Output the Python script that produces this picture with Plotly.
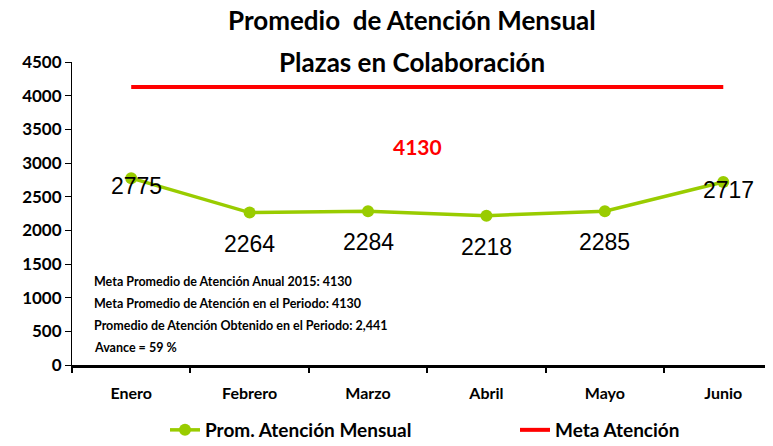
import plotly.graph_objects as go

meses = ["Enero", "Febrero", "Marzo", "Abril", "Mayo", "Junio"]
promedio = [2775, 2264, 2284, 2218, 2285, 2717]
meta = [4130, 4130, 4130, 4130, 4130, 4130]
titulo = ["Promedio  de Atención Mensual", "Plazas en Colaboración"]
notas = [
    "Meta Promedio de Atención Anual 2015: 4130",
    "Meta Promedio de Atención en el Periodo: 4130",
    "Promedio de Atención Obtenido en el Periodo: 2,441",
    "Avance = 59 %",
]

fuente = "Lato, Open Sans, sans-serif"
verde = "#99cc00"
rojo = "#ff0000"

# area de trazado en pixeles de pantalla: x 72..773, y 62..365
# (la pagina tiene 8px de margen en el body)
def px(x):
    return (x - 72) / 701

def py(y):
    return (365 - y) / 303

fig = go.Figure()
fig.add_trace(go.Scatter(x=meses, y=promedio, mode="lines+markers",
                         name="<b>Prom. Atención Mensual</b>", legend="legend",
                         line=dict(color=verde, width=3.5),
                         marker=dict(color=verde, size=12)))
fig.add_trace(go.Scatter(x=meses, y=meta, mode="lines", name="<b>Meta Atención</b>",
                         legend="legend2", line=dict(color=rojo, width=4)))

# etiquetas de datos
for i, (m, v) in enumerate(zip(meses, promedio)):
    extremo = i in (0, len(meses) - 1)
    fig.add_annotation(x=m, y=v, text=str(v), showarrow=False,
                       xshift=5 if extremo else 0,
                       yshift=-8 if extremo else -31,
                       font=dict(family="Arial", size=23, color="black"))

# etiqueta de la meta
fig.add_annotation(x=0.5, xref="paper", y=meta[0], text="<b>%d</b>" % meta[0],
                   showarrow=False, xshift=-5, yshift=-60,
                   font=dict(family=fuente, size=21, color=rojo))

# titulo en dos lineas
for k, t in enumerate(titulo):
    fig.add_annotation(x=px(412), xref="paper", y=py(20 + 42 * k), yref="paper",
                       text="<b>%s</b>" % t, showarrow=False,
                       xanchor="center", yanchor="middle",
                       font=dict(family=fuente, size=26, color="black"))

# cuadro de notas
for k, t in enumerate(notas):
    fig.add_annotation(x=px(92), xref="paper", y=py(281 + 22 * k), yref="paper",
                       text="<b>%s</b>" % t, showarrow=False,
                       xanchor="left", yanchor="middle",
                       font=dict(family=fuente, size=12.5, color="black"))

fig.update_layout(
    width=773, height=446,
    margin=dict(l=64, r=8, t=54, b=89, autoexpand=False),
    paper_bgcolor="white", plot_bgcolor="white",
    showlegend=True,
    legend=dict(orientation="h", x=px(165), y=py(430), xanchor="left", yanchor="middle",
                font=dict(family=fuente, size=19, color="black"),
                bgcolor="rgba(0,0,0,0)"),
    legend2=dict(orientation="h", x=px(515), y=py(430), xanchor="left", yanchor="middle",
                 font=dict(family=fuente, size=19, color="black"),
                 bgcolor="rgba(0,0,0,0)"),
    font=dict(family=fuente, color="black"),
)
fig.update_xaxes(range=[-0.5, 5.42], showline=True, linecolor="black", linewidth=3,
                 ticks="outside", ticklen=5, tickwidth=2, tickcolor="black",
                 showgrid=False, tickson="boundaries",
                 tickfont=dict(family=fuente, size=16, color="black"),
                 ticklabelstandoff=12, tickprefix="<b>", ticksuffix="</b>")
fig.update_yaxes(range=[0, 4500], dtick=500, showline=True, linecolor="black",
                 linewidth=1, ticks="outside", ticklen=6, tickcolor="black",
                 showgrid=False, zeroline=False,
                 tickfont=dict(family=fuente, size=17, color="black"),
                 tickprefix="<b>", ticksuffix="</b>")

fig.write_html("out.html")
